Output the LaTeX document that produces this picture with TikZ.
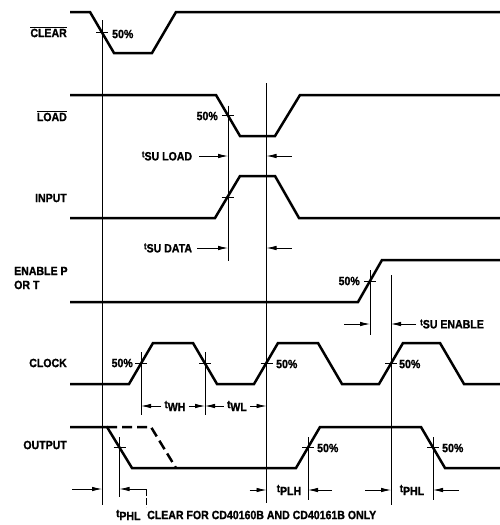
\documentclass[tikz,border=0pt]{standalone}
\usepackage{fontspec}
\setmainfont{Liberation Sans}[FakeStretch=0.88,BoldFeatures={FakeBold=1.2}]
\usetikzlibrary{arrows.meta}

\newcommand{\tsu}{\raisebox{3pt}{\fontsize{9}{10}\selectfont t}}
\newcommand{\tdel}[1]{{\fontsize{11}{12}\selectfont t}\raisebox{-3pt}{#1}}

\tikzset{
    wave/.style={line width=2.5pt,line join=miter},
    guide/.style={line width=0.8pt},
    dim/.style={line width=0.8pt,-{Latex[length=10pt,width=4.5pt]}},
    lbl/.style={inner sep=0pt,font=\bfseries\fontsize{12}{14}\selectfont}
}

\begin{document}
\begin{tikzpicture}[x=1pt,y=-1pt]
    \useasboundingbox (0,0) rectangle (500,525);

    % signal names
    \node[lbl,anchor=east] (clrname) at (67,32) {$\overline{\mbox{CLEAR}}$};
    \node[lbl,anchor=east] (ldname) at (67,116) {$\overline{\mbox{LOAD}}$};
    \node[lbl,anchor=east] (inname) at (67,198) {INPUT};
    \node[lbl,anchor=west,align=left] (enname) at (14,278) {ENABLE P\\OR T};
    \node[lbl,anchor=east] (ckname) at (67,363) {CLOCK};
    \node[lbl,anchor=east] (outname) at (67,445) {OUTPUT};

    % waveforms
    \draw[wave] (70,12) -- (90,12) -- (114,53) -- (152,53) -- (176,12) -- (500,12);
    \draw[wave] (70,95) -- (216,95) -- (240,136) -- (275,136) -- (300,95) -- (500,95);
    \draw[wave] (70,218) -- (215,218) -- (240,176) -- (275,176) -- (299,218) -- (500,218);
    \draw[wave] (70,302) -- (358,302) -- (382,260) -- (500,260);
    \draw[wave] (70,384) -- (129,384) -- (153,343) -- (193,343) -- (217,384) -- (254,384)
        -- (278,343) -- (318,343) -- (342,384) -- (379,384) -- (403,343) -- (440,343)
        -- (464,384) -- (500,384);
    \draw[wave] (70,427) -- (107,427) -- (132,468) -- (296,468) -- (320,427) -- (421,427)
        -- (445,468) -- (500,468);
    \draw[wave,dash pattern=on 10pt off 5pt] (107,427) -- (151,427) -- (176,468);

    % 50% points
    \coordinate (clr) at (102,32.5);
    \coordinate (ld) at (228,115.5);
    \coordinate (inp) at (227.5,197);
    \coordinate (en) at (370,281);
    \coordinate (clk1) at (141,363.5);
    \coordinate (clk2) at (205,363.5);
    \coordinate (clk3) at (266.5,363.5);
    \coordinate (clk4) at (391,363.5);
    \coordinate (out1) at (119.5,447.5);
    \coordinate (out2) at (308,447.5);
    \coordinate (out3) at (433,447.5);

    \foreach \p in {clr,ld,inp,en,clk1,clk2,clk3,clk4,out1,out2,out3}
        \draw[guide] (\p) ++(-6,0) -- ++(12,0);

    % guide lines
    \draw[guide] (clr) ++(0,-12.5) -- ++(0,485);
    \draw[guide] (ld) ++(0,-10) -- ++(0,155);
    \draw[guide] (clk3) ++(0,-280.5) -- ++(0,420);
    \draw[guide] (en) ++(0,-11) -- ++(0,65);
    \draw[guide] (clk4) ++(0,-88.5) -- ++(0,230);
    \draw[guide] (clk1) ++(0,-11.5) -- ++(0,63);
    \draw[guide] (clk2) ++(0,-11.5) -- ++(0,63);
    \draw[guide] (out1) ++(0,-10.5) -- ++(0,60);
    \draw[guide] (out2) ++(0,-10.5) -- ++(0,63);
    \draw[guide] (out3) ++(0,-10.5) -- ++(0,63);

    % 50% labels
    \node[lbl,anchor=west] at (112,34) {50\%};
    \node[lbl,anchor=east] at (218,116) {50\%};
    \node[lbl,anchor=east] at (360,281) {50\%};
    \node[lbl,anchor=east] at (133,363) {50\%};
    \node[lbl,anchor=west] at (276,364) {50\%};
    \node[lbl,anchor=west] at (399,364) {50\%};
    \node[lbl,anchor=west] at (317,448) {50\%};
    \node[lbl,anchor=west] at (442,448) {50\%};

    % setup times
    \node[lbl] (suload) at (167,156) {\tsu SU LOAD};
    \draw[dim] (suload.east) ++(7,0) -- (suload.east -| ld);
    \draw[dim] (suload.east -| clk3) ++(25,0) -- (suload.east -| clk3);

    \node[lbl] (sudata) at (168,248) {\tsu SU DATA};
    \draw[dim] (sudata.east) ++(5,0) -- (sudata.east -| ld);
    \draw[dim] (sudata.east -| clk3) ++(25,0) -- (sudata.east -| clk3);

    \node[lbl,anchor=west] (suen) at (420,324) {\tsu SU ENABLE};
    \draw[dim] (suen.west) ++(-4,0) -- (suen.west -| clk4);
    \draw[dim] (suen.west -| en) ++(-26,0) -- (suen.west -| en);

    % pulse widths
    \node[lbl] (twh) at (175,406) {\tdel{WH}};
    \draw[dim] (twh.west) ++(-3,0) -- (twh.west -| clk1);
    \draw[dim] (twh.east) ++(3,0) -- (twh.east -| clk2);

    \node[lbl] (twl) at (237,406) {\tdel{WL}};
    \draw[dim] (twl.west) ++(-3,0) -- (twl.west -| clk2);
    \draw[dim] (twl.east) ++(3,0) -- (twl.east -| clk3);

    % propagation delays
    \node[lbl] (tplh) at (289,490) {\tdel{PLH}};
    \draw[dim] (tplh.west -| clk3) ++(-17,0) -- (tplh.west -| clk3);
    \draw[dim] (tplh.east -| out2) ++(24,0) -- (tplh.east -| out2);

    \node[lbl] (tphlb) at (412,490) {\tdel{PHL}};
    \draw[dim] (tphlb.west -| clk4) ++(-26,0) -- (tphlb.west -| clk4);
    \draw[dim] (tphlb.east -| out3) ++(26,0) -- (tphlb.east -| out3);

    \coordinate (clrend) at (146,489);
    \draw[dim] (clrend -| clr) ++(-30,0) -- (clrend -| clr);
    \draw[dim] (clrend) -- (clrend -| out1);
    \draw[guide,dash pattern=on 7pt off 2pt] (clrend) -- ++(0,18);

    \node[lbl,anchor=west] (tphla) at (116,515) {\tdel{PHL}};
    \node[lbl,anchor=west] (note) at (147,515) {CLEAR FOR CD40160B AND CD40161B ONLY};
\end{tikzpicture}
\end{document}
